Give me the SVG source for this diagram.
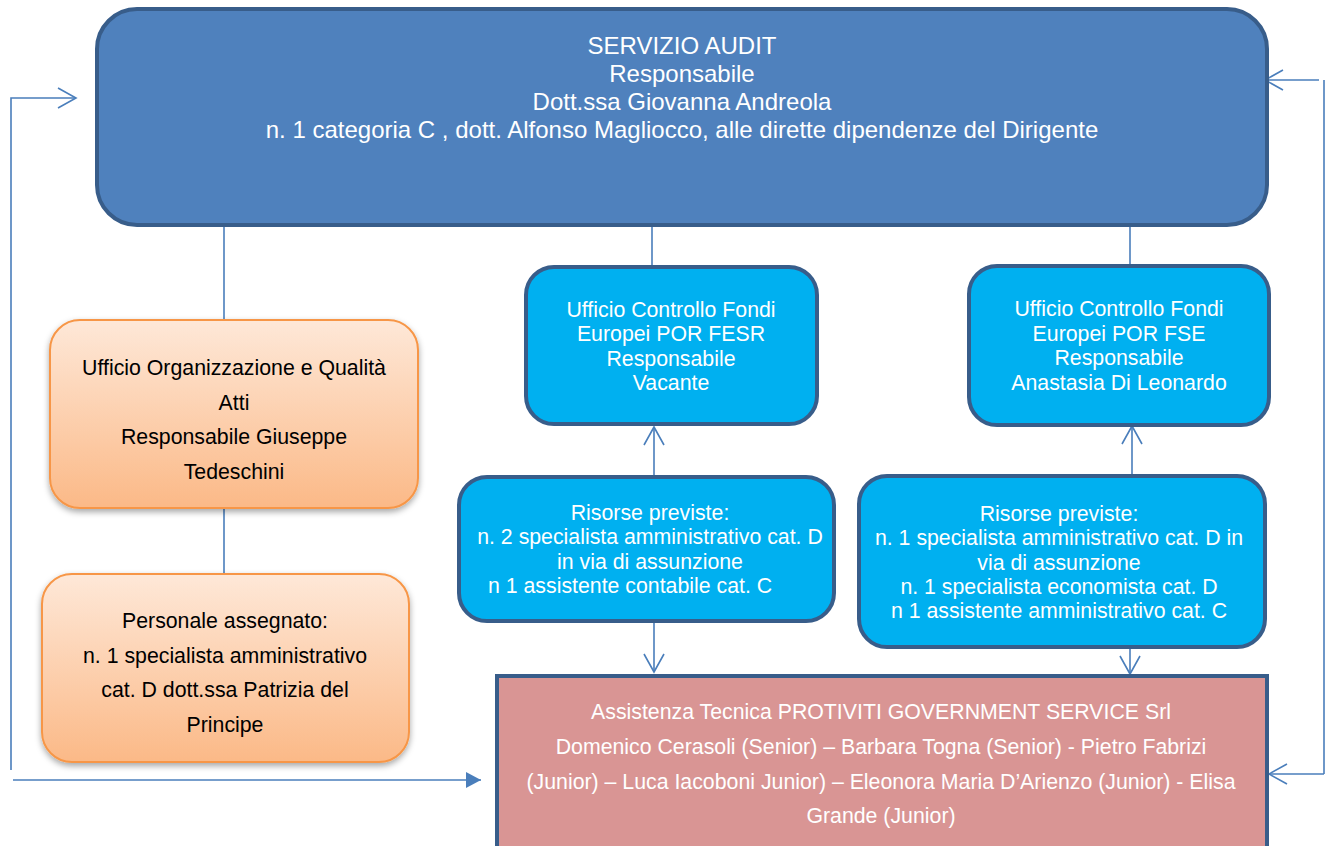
<svg xmlns="http://www.w3.org/2000/svg" width="1330" height="846" viewBox="0 0 1330 846">
<defs>
<linearGradient id="og" x1="0" y1="0" x2="0" y2="1">
<stop offset="0" stop-color="#fee8d8"/>
<stop offset="1" stop-color="#fbb987"/>
</linearGradient>
<filter id="sh" x="-10%" y="-10%" width="120%" height="130%">
<feDropShadow dx="0" dy="3" stdDeviation="3" flood-color="#000" flood-opacity="0.35"/>
</filter>
<marker id="open" markerUnits="userSpaceOnUse" viewBox="-20 -12 24 24" refX="0" refY="0" markerWidth="24" markerHeight="24" orient="auto">
<path d="M-18,-10 L0,0 L-18,10" fill="none" stroke="#4a7ebb" stroke-width="1.6"/>
</marker>
<marker id="fill" markerUnits="userSpaceOnUse" viewBox="-16 -9 18 18" refX="0" refY="0" markerWidth="18" markerHeight="18" orient="auto">
<path d="M-15,-8 L0,0 L-15,8 z" fill="#4a7ebb"/>
</marker>
</defs>
<style>
.main{fill:#4f81bd;stroke:#385d8a;stroke-width:4}
.blue{fill:#00b0f0;stroke:#385d8a;stroke-width:4}
.orange{fill:url(#og);stroke:#f79646;stroke-width:2}
.pink{fill:#d99594;stroke:#385d8a;stroke-width:4}
.c{fill:none;stroke:#4a7ebb;stroke-width:1.6}
text{font-family:"Liberation Sans",Arial,sans-serif;text-anchor:middle}
.tw{fill:#ffffff}
.tb{fill:#000000}
</style>
<g id="connectors">
<line class="c" x1="224" y1="227" x2="224" y2="320"/>
<line class="c" x1="224" y1="508" x2="224" y2="574"/>
<line class="c" x1="652" y1="227" x2="652" y2="265"/>
<line class="c" x1="1130" y1="227" x2="1130" y2="264"/>
<line class="c" x1="654" y1="475" x2="654" y2="427" marker-end="url(#open)"/>
<line class="c" x1="1132" y1="474" x2="1132" y2="426" marker-end="url(#open)"/>
<line class="c" x1="654" y1="622" x2="654" y2="672" marker-end="url(#open)"/>
<line class="c" x1="1130" y1="648" x2="1130" y2="674" marker-end="url(#open)"/>
<polyline class="c" points="11,770 11,98 76,98" marker-end="url(#open)"/>
<line class="c" x1="13" y1="780" x2="481" y2="780" marker-end="url(#fill)"/>
<line class="c" x1="1324" y1="80" x2="1324" y2="774"/>
<line class="c" x1="1319" y1="80" x2="1265" y2="80" marker-end="url(#open)"/>
<line class="c" x1="1324" y1="774" x2="1269" y2="774" marker-end="url(#open)"/>
</g>
<g id="servizio-audit">
<rect class="main" x="97" y="9" width="1170" height="216" rx="40"/>
<text class="tw" font-size="24" x="682"><tspan x="682" y="54">SERVIZIO AUDIT</tspan><tspan x="682" y="82">Responsabile</tspan><tspan x="682" y="110">Dott.ssa Giovanna Andreola</tspan><tspan x="682" y="138">n. 1 categoria C , dott. Alfonso Magliocco, alle dirette dipendenze del Dirigente</tspan></text>
</g>
<g id="ufficio-organizzazione">
<rect class="orange" filter="url(#sh)" x="50" y="320" width="368" height="188" rx="30"/>
<text class="tb" font-size="21.3"><tspan x="234" y="375">Ufficio Organizzazione e Qualità</tspan><tspan x="234" y="410">Atti</tspan><tspan x="234" y="444">Responsabile Giuseppe</tspan><tspan x="234" y="479">Tedeschini</tspan></text>
</g>
<g id="personale-assegnato">
<rect class="orange" filter="url(#sh)" x="42" y="574" width="367" height="188" rx="30"/>
<text class="tb" font-size="21.3"><tspan x="225" y="628">Personale assegnato:</tspan><tspan x="225" y="663">n. 1 specialista amministrativo</tspan><tspan x="225" y="697">cat. D dott.ssa Patrizia del</tspan><tspan x="225" y="732">Principe</tspan></text>
</g>
<g id="ufficio-fesr">
<rect class="blue" x="526" y="267" width="291" height="157" rx="28"/>
<text class="tw" font-size="21.3"><tspan x="671" y="317">Ufficio Controllo Fondi</tspan><tspan x="671" y="341">Europei POR FESR</tspan><tspan x="671" y="366">Responsabile</tspan><tspan x="671" y="390">Vacante</tspan></text>
</g>
<g id="risorse-fesr">
<rect class="blue" x="459" y="477" width="375" height="144" rx="28"/>
<text class="tw" font-size="21.3"><tspan x="650" y="520">Risorse previste:</tspan><tspan x="650" y="544">n. 2 specialista amministrativo cat. D</tspan><tspan x="650" y="569">in via di assunzione</tspan><tspan x="488" y="593" text-anchor="start">n 1 assistente contabile cat. C</tspan></text>
</g>
<g id="ufficio-fse">
<rect class="blue" x="969" y="266" width="300" height="159" rx="28"/>
<text class="tw" font-size="21.3"><tspan x="1119" y="316">Ufficio Controllo Fondi</tspan><tspan x="1119" y="341">Europei POR FSE</tspan><tspan x="1119" y="365">Responsabile</tspan><tspan x="1119" y="390">Anastasia Di Leonardo</tspan></text>
</g>
<g id="risorse-fse">
<rect class="blue" x="859" y="476" width="406" height="171" rx="28"/>
<text class="tw" font-size="21.3"><tspan x="1059" y="521">Risorse previste:</tspan><tspan x="1059" y="545">n. 1 specialista amministrativo cat. D in</tspan><tspan x="1059" y="570">via di assunzione</tspan><tspan x="1059" y="594">n. 1 specialista economista cat. D</tspan><tspan x="1059" y="618">n 1 assistente amministrativo cat. C</tspan></text>
</g>
<g id="assistenza-tecnica">
<rect class="pink" x="497" y="676" width="770" height="200"/>
<text class="tw" font-size="21.3"><tspan x="881" y="719">Assistenza Tecnica PROTIVITI GOVERNMENT SERVICE Srl</tspan><tspan x="881" y="754">Domenico Cerasoli (Senior) – Barbara Togna (Senior) - Pietro Fabrizi</tspan><tspan x="881" y="789">(Junior) – Luca Iacoboni Junior) – Eleonora Maria D’Arienzo (Junior) - Elisa</tspan><tspan x="881" y="823">Grande (Junior)</tspan></text>
</g>
</svg>
